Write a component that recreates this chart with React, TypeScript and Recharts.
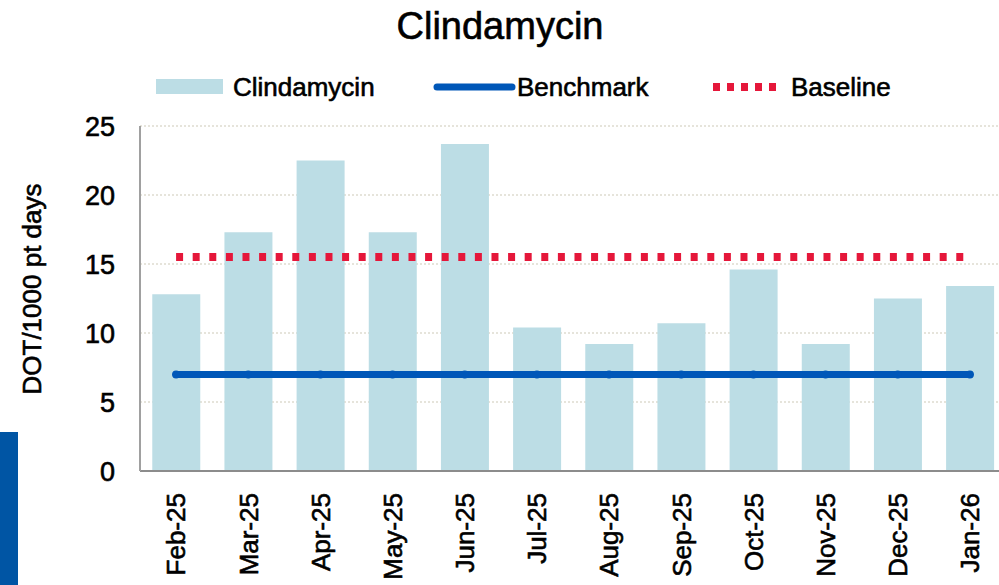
import React from 'react';
import { ComposedChart, Bar, Line, XAxis, YAxis, CartesianGrid } from 'recharts';

const months = ['Feb-25', 'Mar-25', 'Apr-25', 'May-25', 'Jun-25', 'Jul-25', 'Aug-25', 'Sep-25', 'Oct-25', 'Nov-25', 'Dec-25', 'Jan-26'];
const clindamycin = [12.8, 17.3, 22.5, 17.3, 23.7, 10.4, 9.2, 10.7, 14.6, 9.2, 12.5, 13.4];
const benchmark = [7.0, 7.0, 7.0, 7.0, 7.0, 7.0, 7.0, 7.0, 7.0, 7.0, 7.0, 7.0];
const baseline = [15.5, 15.5, 15.5, 15.5, 15.5, 15.5, 15.5, 15.5, 15.5, 15.5, 15.5, 15.5];
const yTicks = [0, 5, 10, 15, 20, 25];

const data = months.map((m, i) => ({
  month: m,
  clindamycin: clindamycin[i],
  benchmark: benchmark[i],
  baseline: baseline[i],
}));

const FONT = '"Liberation Sans", Arial, sans-serif';
const BAR = '#bcdde5';
const BLUE = '#0057b8';
const RED = '#e5173a';
const TEXT = '#000000';
const TSTROKE = 0.6;

const XTick = (props: any) => {
  const { x, y, payload } = props;
  const ty = y + 22;
  return (
    <text
      x={x}
      y={ty}
      dy="0.36em"
      transform={`rotate(-90, ${x}, ${ty})`}
      textAnchor="end"
      fontSize={26}
      fontFamily={FONT}
      fill={TEXT}
      stroke={TEXT}
      strokeWidth={TSTROKE}
    >
      {payload.value}
    </text>
  );
};

const YLabel = () => (
  <text
    x={32}
    y={289}
    dy="0.36em"
    transform="rotate(-90, 32, 289)"
    textAnchor="middle"
    fontSize={26}
    fontFamily={FONT}
    fill={TEXT}
    stroke={TEXT}
    strokeWidth={TSTROKE}
  >
    DOT/1000 pt days
  </text>
);

const legendText: React.CSSProperties = {
  position: 'absolute',
  top: 87,
  transform: 'translateY(-50%)',
  fontSize: 26,
  fontFamily: FONT,
  color: TEXT,
  lineHeight: 1,
  whiteSpace: 'nowrap',
  WebkitTextStroke: `${TSTROKE}px ${TEXT}`,
};

export default function App() {
  return (
    <div
      style={{
        position: 'fixed',
        left: 0,
        top: 0,
        width: 999,
        height: 585,
        overflow: 'hidden',
        background: '#ffffff',
      }}
    >
      <div style={{ position: 'absolute', left: 0, top: 432, width: 18, height: 153, background: '#0055a4' }} />
      <ComposedChart
        width={1015}
        height={585}
        data={data}
        margin={{ top: 126, right: 9, bottom: 0, left: 0 }}
        barCategoryGap="17%"
      >
        <CartesianGrid vertical={false} stroke="#dedbd0" strokeDasharray="2 2" strokeWidth={1.5} />
        <XAxis
          dataKey="month"
          height={114}
          tick={<XTick />}
          tickLine={false}
          tickSize={0}
          tickMargin={0}
          interval={0}
          axisLine={{ stroke: '#8c8c8c', strokeWidth: 2 }}
        />
        <YAxis
          width={140}
          domain={[0, 25]}
          ticks={yTicks}
          tickLine={false}
          tickSize={0}
          tickMargin={25}
          axisLine={{ stroke: '#a0a0a0', strokeWidth: 2 }}
          tick={{ fontSize: 27, fill: TEXT, fontFamily: FONT, stroke: TEXT, strokeWidth: TSTROKE }}
          label={<YLabel />}
        />
        <Bar dataKey="clindamycin" fill={BAR} isAnimationActive={false} />
        <Line
          dataKey="benchmark"
          stroke={BLUE}
          strokeWidth={7}
          strokeLinecap="round"
          dot={{ r: 4, fill: BLUE, stroke: BLUE, strokeWidth: 0 }}
          isAnimationActive={false}
        />
        <Line
          dataKey="baseline"
          stroke={RED}
          strokeWidth={8}
          strokeDasharray="7 9.6"
          dot={false}
          isAnimationActive={false}
        />
      </ComposedChart>
      <div
        style={{
          position: 'absolute',
          left: 0,
          top: 26,
          width: 1000,
          transform: 'translateY(-50%)',
          textAlign: 'center',
          fontSize: 38,
          fontFamily: FONT,
          color: TEXT,
          lineHeight: 1,
          WebkitTextStroke: `${TSTROKE}px ${TEXT}`,
        }}
      >
        Clindamycin
      </div>
      <div style={{ position: 'absolute', left: 156, top: 79, width: 67, height: 15, background: BAR }} />
      <div style={{ ...legendText, left: 233 }}>Clindamycin</div>
      <svg style={{ position: 'absolute', left: 430, top: 80 }} width={90} height={14}>
        <line x1={7} y1={7} x2={82} y2={7} stroke={BLUE} strokeWidth={7} strokeLinecap="round" />
      </svg>
      <div style={{ ...legendText, left: 517 }}>Benchmark</div>
      <svg style={{ position: 'absolute', left: 713, top: 80 }} width={70} height={14}>
        <line x1={0} y1={7} x2={66} y2={7} stroke={RED} strokeWidth={8} strokeDasharray="7 7" />
      </svg>
      <div style={{ ...legendText, left: 791 }}>Baseline</div>
    </div>
  );
}
